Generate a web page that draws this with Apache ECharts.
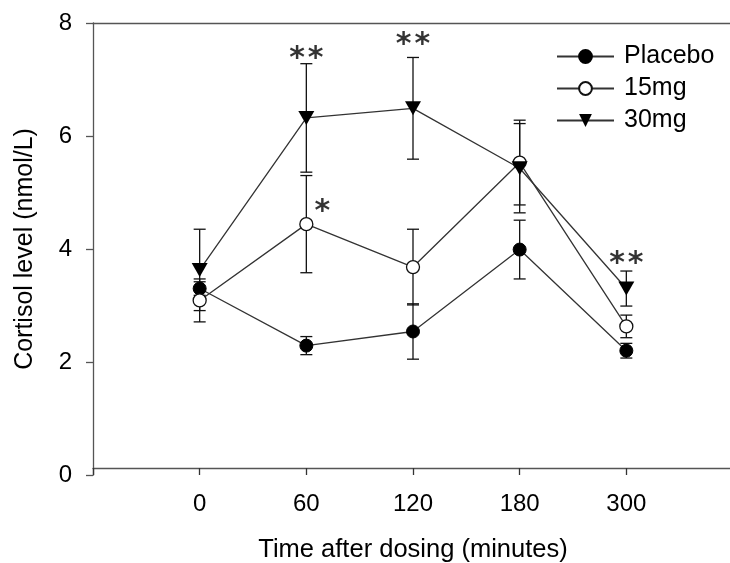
<!DOCTYPE html>
<html>
<head>
<meta charset="utf-8">
<script src="https://cdn.jsdelivr.net/npm/echarts@6/dist/echarts.min.js"></script>
<style>
html,body{margin:0;padding:0;background:#fff;}
#chart{width:730px;height:563px;}
</style>
</head>
<body>
<div id="chart"></div>
<script>
// ---- data ----
var categories = ['0', '60', '120', '180', '300'];
var placebo    = [3.30, 2.29, 2.54, 3.99, 2.20];
var placeboErr = [0.12, 0.16, 0.49, 0.52, 0.13];
var mg15       = [3.09, 4.44, 3.68, 5.53, 2.63];
var mg15Err    = [0.38, 0.86, 0.67, 0.75, 0.20];
var mg30       = [3.63, 6.32, 6.49, 5.43, 3.30];
var mg30Err    = [0.72, 0.96, 0.90, 0.79, 0.31];
var sig30      = ['', '**', '**', '', '**'];
var sig30Y     = [null, 7.49, 7.73, null, 3.86];
var sig15      = ['', '*', '', '', ''];
var sig15Y     = [null, 4.78, null, null, null];
var seriesNames = ['Placebo', '15mg', '30mg'];
var yTicks = [0, 2, 4, 6, 8];

var FONT = '"Liberation Sans", Arial, sans-serif';
var INK = '#111';
var AXIS = '#555';

function pts(vals) { return vals.map(function (v, i) { return [i, v]; }); }
function errs(vals, e) { return vals.map(function (v, i) { return [i, v - e[i], v + e[i]]; }); }
function sigData(labels, ys) {
  var out = [];
  labels.forEach(function (s, i) { if (s) out.push({ value: [i, ys[i]], txt: s }); });
  return out;
}
function starText(s) {
  return s.split('').map(function () { return '{s|*}'; }).join('{g|}');
}

function renderErr(params, api) {
  var x = api.value(0), lo = api.value(1), hi = api.value(2);
  var a = api.coord([x, hi]), b = api.coord([x, lo]);
  var w = 6;
  var st = { stroke: INK, lineWidth: 1.3 };
  return {
    type: 'group',
    children: [
      { type: 'line', shape: { x1: a[0], y1: a[1], x2: b[0], y2: b[1] }, style: st },
      { type: 'line', shape: { x1: a[0] - w, y1: a[1], x2: a[0] + w, y2: a[1] }, style: st },
      { type: 'line', shape: { x1: b[0] - w, y1: b[1], x2: b[0] + w, y2: b[1] }, style: st }
    ]
  };
}

var triDown = 'path://M0,0 L20,0 L10,17 Z';
var starRich = {
  s: { fontFamily: '"DejaVu Sans", sans-serif', fontSize: 30, fontWeight: 'bold', color: '#000' },
  g: { width: 3 }
};

var chart = echarts.init(document.getElementById('chart'), null, { renderer: 'canvas' });
chart.setOption({
  animation: false,
  backgroundColor: '#fff',
  textStyle: { fontFamily: FONT, color: '#000' },
  grid: { left: 93, right: -3, top: 23, bottom: 88, containLabel: false, outerBoundsMode: 'none' },
  legend: {
    data: seriesNames,
    orient: 'vertical',
    left: 551,
    top: 39,
    itemWidth: 57,
    itemHeight: 16,
    itemGap: 7,
    textStyle: { fontFamily: FONT, fontSize: 25, color: '#000', padding: [0, 0, 0, 5] }
  },
  xAxis: [{
    type: 'value', min: -1, max: 5, interval: 1, offset: -7,
    name: 'Time after dosing (minutes)', nameLocation: 'middle', nameGap: 69,
    nameTextStyle: { fontFamily: FONT, fontSize: 25.5, color: '#000' },
    axisLine: { show: true, onZero: false, lineStyle: { color: AXIS, width: 1.3 } },
    axisTick: { show: true, length: 7, inside: false, lineStyle: { color: '#333', width: 1.3 } },
    axisLabel: { margin: 24, fontFamily: FONT, fontSize: 24, color: '#000',
      formatter: function (v) { return categories[v] !== undefined ? categories[v] : ''; } },
    splitLine: { show: false }
  }, {
    type: 'value', min: -1, max: 5, position: 'top',
    axisLine: { show: true, onZero: false, lineStyle: { color: AXIS, width: 1.3 } },
    axisTick: { show: false }, axisLabel: { show: false }, splitLine: { show: false }
  }],
  yAxis: {
    type: 'value', min: 0, max: 8, interval: 2,
    name: 'Cortisol level (nmol/L)', nameLocation: 'middle', nameGap: 55, nameRotate: 90,
    nameTextStyle: { fontFamily: FONT, fontSize: 25, color: '#000' },
    axisLine: { show: true, onZero: false, lineStyle: { color: AXIS, width: 1.3 } },
    axisTick: { show: true, length: 7, lineStyle: { color: AXIS, width: 1.3 } },
    axisLabel: { margin: 21, fontFamily: FONT, fontSize: 24, color: '#000',
      formatter: function (v) { return yTicks.indexOf(v) >= 0 ? String(v) : ''; } },
    splitLine: { show: false }
  },
  series: [
    { type: 'custom', name: 'err-placebo', renderItem: renderErr, data: errs(placebo, placeboErr), z: 1, silent: true },
    { type: 'custom', name: 'err-15', renderItem: renderErr, data: errs(mg15, mg15Err), z: 1, silent: true },
    { type: 'custom', name: 'err-30', renderItem: renderErr, data: errs(mg30, mg30Err), z: 1, silent: true },
    {
      type: 'line', name: seriesNames[0], data: pts(placebo), z: 3,
      symbol: 'circle', symbolSize: 13,
      lineStyle: { color: '#333', width: 1.3 },
      itemStyle: { color: '#000', borderColor: '#000', borderWidth: 1 }
    },
    {
      type: 'line', name: seriesNames[1], data: pts(mg15), z: 3,
      symbol: 'circle', symbolSize: 13,
      lineStyle: { color: '#333', width: 1.3 },
      itemStyle: { color: '#fff', borderColor: '#111', borderWidth: 1.3 }
    },
    {
      type: 'line', name: seriesNames[2], data: pts(mg30), z: 3,
      symbol: triDown, symbolSize: [16, 14],
      lineStyle: { color: '#333', width: 1.3 },
      itemStyle: { color: '#000', borderColor: '#000', borderWidth: 0 }
    },
    {
      type: 'scatter', name: 'sig30', data: sigData(sig30, sig30Y), symbolSize: 0, z: 5, silent: true,
      label: { show: true, position: 'inside', offset: [0, 7],
        formatter: function (p) { return starText(p.data.txt); }, rich: starRich }
    },
    {
      type: 'scatter', name: 'sig15', data: sigData(sig15, sig15Y), symbolSize: 0, z: 5, silent: true,
      label: { show: true, position: 'inside', offset: [16, 7],
        formatter: function (p) { return starText(p.data.txt); }, rich: starRich }
    }
  ]
});
</script>
</body>
</html>
